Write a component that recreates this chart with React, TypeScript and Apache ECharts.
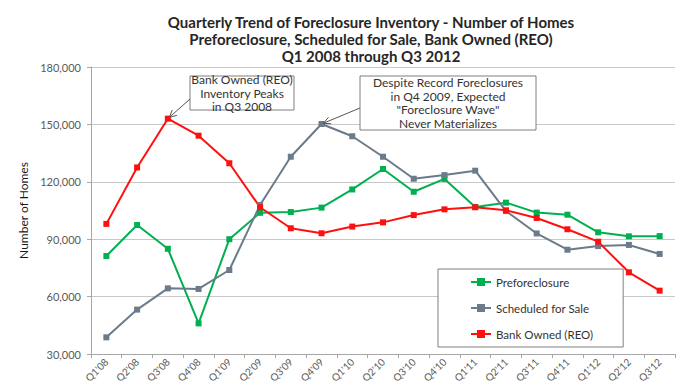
import React, { useEffect, useRef } from "react";
import * as echarts from "echarts";

const categories = ["Q1'08","Q2'08","Q3'08","Q4'08","Q1'09","Q2'09","Q3'09","Q4'09","Q1'10","Q2'10","Q3'10","Q4'10","Q1'11","Q2'11","Q3'11","Q4'11","Q1'12","Q2'12","Q3'12"];
const preforeclosure = [81200, 97400, 85000, 46000, 90000, 103800, 104200, 106500, 116000, 126700, 114800, 121500, 106800, 109100, 103900, 102800, 93600, 91500, 91600];
const scheduledForSale = [38700, 53200, 64300, 64000, 73900, 107900, 133100, 150200, 143800, 133100, 121600, 123500, 125800, 104700, 93000, 84500, 86400, 87000, 82300];
const bankOwned = [98000, 127500, 153000, 144100, 129700, 106700, 95700, 93100, 96600, 98800, 102600, 105600, 106700, 105100, 101100, 95200, 88700, 72700, 63100];
const seriesNames = ["Preforeclosure", "Scheduled for Sale", "Bank Owned (REO)"];
const titleLines = ["Quarterly Trend of Foreclosure Inventory - Number of Homes", "Preforeclosure, Scheduled for Sale, Bank Owned (REO)", "Q1 2008 through Q3 2012"];
const note1 = "Bank Owned (REO)\nInventory Peaks\nin Q3 2008";
const note2 = "Despite Record Foreclosures\nin Q4 2009, Expected\n\"Foreclosure Wave\"\nNever Materializes";

const FONT = "Lato, 'Open Sans', sans-serif";

export default function App() {
  const ref = useRef<HTMLDivElement>(null);
  useEffect(() => {
    if (!ref.current) return;
    const chart = echarts.init(ref.current, null, { renderer: "svg" });
    const mk = (name: string, data: number[], color: string) => ({
      name,
      type: "line",
      data,
      symbol: "rect",
      symbolSize: 6,
      lineStyle: { color, width: 2 },
      itemStyle: { color },
      z: 3,
    });
    chart.setOption({
      animation: false,
      textStyle: { fontFamily: FONT },
      title: {
        text: titleLines.join("\n"),
        left: 366,
        textAlign: "center",
        top: 8,
        textStyle: { fontSize: 15, fontWeight: "bold", color: "#262626", lineHeight: 17, fontFamily: FONT },
      },
      grid: { left: 91, right: 25, top: 67, bottom: 34 },
      legend: {
        orient: "vertical",
        left: 438,
        top: 269,
        padding: [7, 30, 7, 32],
        itemGap: 14,
        itemWidth: 20,
        itemHeight: 10,
        borderColor: "#7f7f7f",
        borderWidth: 1,
        backgroundColor: "#ffffff",
        textStyle: { fontSize: 11.5, color: "#333", fontFamily: FONT },
        data: seriesNames,
      },
      xAxis: {
        type: "category",
        data: categories,
        boundaryGap: true,
        axisLine: { lineStyle: { color: "#a6a6a6" } },
        axisTick: { show: true, length: 4, lineStyle: { color: "#a6a6a6" } },
        axisLabel: { rotate: 45, fontSize: 10, color: "#595959", margin: 6, interval: 0 },
      },
      yAxis: {
        type: "value",
        min: 30000,
        max: 180000,
        interval: 30000,
        name: "Number of Homes",
        nameLocation: "middle",
        nameGap: 62,
        nameTextStyle: { fontSize: 12, color: "#1a1a1a" },
        axisLine: { show: true, lineStyle: { color: "#a6a6a6" } },
        axisTick: { show: true, length: 4, lineStyle: { color: "#a6a6a6" } },
        axisLabel: {
          fontSize: 11,
          color: "#595959",
          margin: 10,
          formatter: (v: number) => v.toLocaleString("en-US"),
        },
        splitLine: { lineStyle: { color: "#c8c8c8", width: 1 } },
      },
      series: [
        mk(seriesNames[0], preforeclosure, "#00b050"),
        mk(seriesNames[1], scheduledForSale, "#6b7b8a"),
        mk(seriesNames[2], bankOwned, "#ff1010"),
      ],
    });

    const p1 = chart.convertToPixel({ seriesIndex: 2 }, [2, bankOwned[2]]) as number[];
    const p2 = chart.convertToPixel({ seriesIndex: 1 }, [7, scheduledForSale[7]]) as number[];
    const arrow = (from: number[], to: number[]) => {
      const dx = to[0] - from[0];
      const dy = to[1] - from[1];
      const len = Math.sqrt(dx * dx + dy * dy);
      const ux = dx / len, uy = dy / len;
      const tip = [to[0] - ux * 2, to[1] - uy * 2];
      const ah = 7, aw = 3.5;
      const bx = tip[0] - ux * ah, by = tip[1] - uy * ah;
      const style = { stroke: "#555", lineWidth: 1 };
      return [
        { type: "line", shape: { x1: from[0], y1: from[1], x2: tip[0], y2: tip[1] }, style, z: 10 },
        { type: "polyline", shape: { points: [[bx - uy * aw, by + ux * aw], tip, [bx + uy * aw, by - ux * aw]] }, style: { ...style, fill: null }, z: 10 },
      ];
    };
    const box = (x: number, y: number, w: number, h: number, text: string) => ({
      type: "group",
      z: 10,
      children: [
        { type: "rect", shape: { x, y, width: w, height: h }, style: { fill: "#fff", stroke: "#7f7f7f", lineWidth: 1 } },
        {
          type: "text",
          x: x + w / 2,
          y: y + h / 2,
          style: { text, fill: "#333", font: `12px ${FONT}`, align: "center", verticalAlign: "middle", lineHeight: 13.5 },
        },
      ],
    });
    chart.setOption({
      graphic: [
        box(190, 76, 104, 34, note1),
        box(360, 76, 176, 54, note2),
        ...arrow([190, 99], p1),
        ...arrow([360, 108], p2),
      ],
    });
    return () => chart.dispose();
  }, []);
  return <div ref={ref} style={{ position: "absolute", left: 0, top: 0, width: 700, height: 388 }} />;
}
